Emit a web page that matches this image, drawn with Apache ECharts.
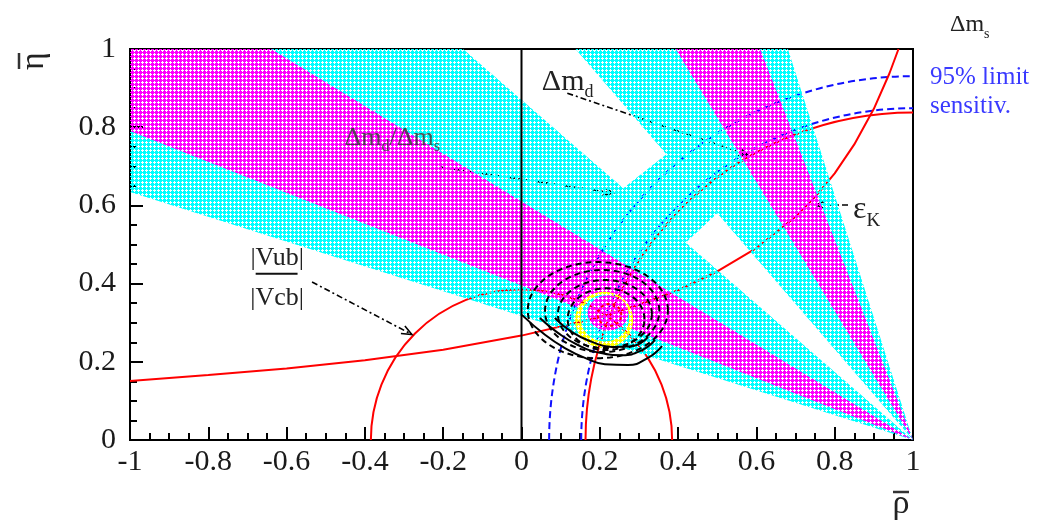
<!DOCTYPE html>
<html>
<head>
<meta charset="utf-8">
<script src="https://cdn.jsdelivr.net/npm/echarts@6/dist/echarts.min.js"></script>
<style>
html,body{margin:0;padding:0;background:#fff}
#chart{width:1046px;height:527px}
</style>
</head>
<body>
<div id="chart"></div>
<script>
// ---------- values ----------
const xTickLabels = ['-1', '-0.8', '-0.6', '-0.4', '-0.2', '0', '0.2', '0.4', '0.6', '0.8', '1'];
const yTickLabels = ['0', '0.2', '0.4', '0.6', '0.8', '1'];

// sin2β wedges from the apex (1,0): [tanβ low, tanβ high] for the two-fold solutions
const wedgeWide = [[0.317, 0.87], [1.16, 3.13]];
const wedgeCore = [[0.395, 0.61], [1.65, 2.56]];
// band piece bridging the gap between the two wide wedges, [ρ, η] corners
const bridgeBand = [[0.26, 0.644], [0.37, 0.731], [0.50, 0.58], [0.42, 0.505]];

// ε_K hyperbola, [ρ, η]
const epsKCurve = [
  [-1, 0.151], [-0.8, 0.166], [-0.6, 0.183], [-0.4, 0.204], [-0.2, 0.231],
  [0, 0.267], [0.2, 0.314], [0.3, 0.346], [0.4, 0.383], [0.5, 0.431],
  [0.6, 0.491], [0.7, 0.571], [0.75, 0.622], [0.8, 0.682], [0.85, 0.756],
  [0.9, 0.847], [0.94, 0.938], [0.963, 1.0]
];

// circles: [centre ρ, centre η, radius]
const vubCircle = [0, 0, 0.385];
const dmdCircle = [1, 0, 0.837];
const dmsCircles = [[1, 0, 0.93], [1, 0, 0.848]];

// fit contours, solid lower arcs [ρ, η]
const solidArc1 = [[0.001, 0.320], [0.060, 0.269], [0.111, 0.235], [0.162, 0.210], [0.213, 0.194], [0.272, 0.192], [0.323, 0.210], [0.359, 0.240]];
const solidArc2 = [[0.047, 0.312], [0.093, 0.274], [0.144, 0.243], [0.200, 0.223], [0.257, 0.217], [0.308, 0.230], [0.341, 0.256]];
const solidArc3 = [[0.085, 0.312], [0.129, 0.276], [0.180, 0.251], [0.231, 0.238], [0.282, 0.240], [0.323, 0.263]];
// dashed contour rings: [centre ρ, centre η, half-width, half-height]
const dashedRings = [[0.195, 0.332, 0.179, 0.123], [0.206, 0.330, 0.146, 0.105], [0.213, 0.322, 0.120, 0.087], [0.216, 0.309, 0.098, 0.079]];
// filled likelihood levels: [centre ρ, centre η, half-width, half-height]
const filledLevels = [[0.211, 0.307, 0.074, 0.072], [0.213, 0.312, 0.062, 0.060], [0.221, 0.325, 0.052, 0.045]];
const innerRing = [0.225, 0.320, 0.030, 0.028];

// ---------- drawing ----------
const FONT = 'Liberation Serif';

function makePattern(color) {
  const c = document.createElement('canvas');
  c.width = 4; c.height = 4;
  const g = c.getContext('2d');
  g.fillStyle = color;
  g.fillRect(0, 0, 4, 4);
  [[2, 2], [1, 2], [3, 2], [2, 1], [2, 3]].forEach(p => g.clearRect(p[0], p[1], 1, 1));
  return { image: c, repeat: 'repeat' };
}
const cyanFill = makePattern('#00ffff');
const magentaFill = makePattern('#ff00ff');
const yellowFill = makePattern('#ffff00');

// edge of a wedge line η = t(1-ρ) on the frame
function wedgeEdge(t) {
  return 2 * t <= 1 ? [-1, 2 * t] : [1 - 1 / t, 1];
}
function wedgePolygon(tLo, tHi) {
  const a = wedgeEdge(tLo), b = wedgeEdge(tHi);
  const pts = [[1, 0], a];
  if (a[0] === -1 && b[1] === 1) pts.push([-1, 1]);
  pts.push(b);
  return pts;
}
function ellipsePts(api, cx, cy, rx, ry) {
  const c = api.coord([cx, cy]);
  const s = api.size([rx, ry]);
  const pts = [];
  for (let k = 0; k < 90; k++) {
    const a = k / 90 * Math.PI * 2;
    pts.push([c[0] + s[0] * Math.cos(a), c[1] - s[1] * Math.sin(a)]);
  }
  return pts;
}
function subLabel(api, at, main, sub, size, color) {
  const p = api.coord(at);
  return {
    type: 'text', x: p[0], y: p[1],
    style: {
      text: '{m|' + main + '}{s|' + sub + '}',
      fill: color, verticalAlign: 'middle',
      rich: {
        m: { fontFamily: FONT, fontSize: size, fill: color, lineHeight: size * 1.3 },
        s: { fontFamily: FONT, fontSize: Math.round(size * 0.6), fill: color, verticalAlign: 'bottom', lineHeight: size * 0.9 }
      }
    }
  };
}
function arrow(api, from, to) {
  const a = api.coord(from), b = api.coord(to);
  const ang = Math.atan2(b[1] - a[1], b[0] - a[0]);
  const L = 11, w = 0.4;
  const h1 = [b[0] - L * Math.cos(ang - w), b[1] - L * Math.sin(ang - w)];
  const h2 = [b[0] - L * Math.cos(ang + w), b[1] - L * Math.sin(ang + w)];
  return [
    { type: 'line', shape: { x1: a[0], y1: a[1], x2: b[0], y2: b[1] }, style: { stroke: '#000', lineWidth: 1.6, lineDash: [6, 3, 2, 3] } },
    { type: 'polyline', shape: { points: [h1, b, h2] }, style: { stroke: '#000', lineWidth: 1.6, fill: null } }
  ];
}

const circleStyles = [
  { stroke: '#ff0000', lineDash: null },
  { stroke: '#ff0000', lineDash: null },
  { stroke: '#1010ff', lineDash: [7, 4] },
  { stroke: '#1010ff', lineDash: [7, 4] }
];
const circleData = [vubCircle, dmdCircle].concat(dmsCircles);

const wedgeData = wedgeWide.map(w => [w[0], w[1], 0]).concat(wedgeCore.map(w => [w[0], w[1], 1]));

const option = {
  animation: false,
  backgroundColor: '#ffffff',
  grid: { left: 130, right: 133, top: 49, bottom: 87, show: true, borderColor: '#000', borderWidth: 2, backgroundColor: 'transparent' },
  xAxis: {
    type: 'value', min: -1, max: 1, interval: 0.2,
    axisLine: { onZero: false, lineStyle: { color: '#000', width: 2 } },
    axisTick: { inside: true, length: 13, lineStyle: { color: '#000', width: 2 } },
    minorTick: { show: true, splitNumber: 4, length: 7, lineStyle: { color: '#000', width: 2 } },
    splitLine: { show: false },
    axisLabel: {
      margin: 7, fontFamily: FONT, fontSize: 30, color: '#1a1a1a',
      formatter: v => xTickLabels[Math.round((v + 1) / 0.2)]
    }
  },
  yAxis: {
    type: 'value', min: 0, max: 1, interval: 0.2,
    axisLine: { onZero: false, lineStyle: { color: '#000', width: 2 } },
    axisTick: { inside: true, length: 13, lineStyle: { color: '#000', width: 2 } },
    minorTick: { show: true, splitNumber: 4, length: 7, lineStyle: { color: '#000', width: 2 } },
    splitLine: { show: false },
    axisLabel: {
      margin: 14, fontFamily: FONT, fontSize: 30, color: '#1a1a1a',
      formatter: v => yTickLabels[Math.round(v / 0.2)]
    }
  },
  series: [
    // ε_K hyperbola
    {
      type: 'line', z: 1, data: epsKCurve, showSymbol: false, silent: true,
      lineStyle: { color: '#ff0000', width: 2 }
    },
    // |Vub/Vcb|, Δm_d and Δm_s circles
    {
      type: 'custom', z: 1, silent: true, data: circleData,
      renderItem: (params, api) => {
        const i = params.dataIndex;
        const c = api.coord([api.value(0), api.value(1)]);
        const s = api.size([api.value(2), api.value(2)]);
        const r = (s[0] + s[1]) / 2;
        const half = api.value(0) === 0;
        const st = circleStyles[i];
        return {
          type: 'arc',
          shape: { cx: c[0], cy: c[1], r: r, startAngle: Math.PI, endAngle: half ? Math.PI * 2 : Math.PI * 1.5, clockwise: true },
          style: { stroke: st.stroke, lineWidth: 2, fill: null, lineDash: st.lineDash }
        };
      }
    },
    // arrows and labels lying under the bands
    {
      type: 'custom', z: 1, silent: true, data: [[0, 0]],
      renderItem: (params, api) => {
        const ch = [];
        arrow(api, [-0.208, 0.698], [0.234, 0.632]).forEach(e => ch.push(e));
        arrow(api, [0.117, 0.887], [0.578, 0.729]).forEach(e => ch.push(e));
        arrow(api, [0.834, 0.601], [0.752, 0.601]).forEach(e => ch.push(e));
        arrow(api, [-0.535, 0.404], [-0.28, 0.27]).forEach(e => ch.push(e));
        ch.push(subLabel(api, [0.052, 0.915], 'Δm', 'd', 30, '#222'));
        ch.push(subLabel(api, [0.847, 0.588], 'ε', 'K', 32, '#222'));
        // |Vub| / |Vcb|
        const t1 = api.coord([-0.624, 0.465]);
        const t2 = api.coord([-0.624, 0.363]);
        const b1 = api.coord([-0.679, 0.425]);
        const b2 = api.coord([-0.572, 0.425]);
        ch.push({ type: 'text', x: t1[0], y: t1[1], style: { text: '|Vub|', fontFamily: FONT, fontSize: 26, fill: '#222', align: 'center', verticalAlign: 'middle' } });
        ch.push({ type: 'line', shape: { x1: b1[0], y1: b1[1], x2: b2[0], y2: b2[1] }, style: { stroke: '#111', lineWidth: 2 } });
        ch.push({ type: 'text', x: t2[0], y: t2[1], style: { text: '|Vcb|', fontFamily: FONT, fontSize: 26, fill: '#222', align: 'center', verticalAlign: 'middle' } });
        return { type: 'group', children: ch };
      }
    },
    // sin2β bands
    {
      type: 'custom', z: 2, silent: true, data: wedgeData,
      renderItem: (params, api) => {
        const kind = api.value(2);
        const pts = wedgePolygon(api.value(0), api.value(1)).map(p => api.coord(p));
        return { type: 'polygon', z2: kind, shape: { points: pts }, style: { fill: kind ? magentaFill : cyanFill, stroke: null } };
      }
    },
    {
      type: 'custom', z: 2, silent: true, data: [[0, 0]],
      renderItem: (params, api) => ({
        type: 'polygon', z2: 0,
        shape: { points: bridgeBand.map(p => api.coord(p)) },
        style: { fill: cyanFill, stroke: null }
      })
    },
    // Δm_d / Δm_s label
    {
      type: 'custom', z: 3, silent: true, data: [[-0.452, 0.772]],
      renderItem: (params, api) => {
        const p = api.coord([api.value(0), api.value(1)]);
        return {
          type: 'text', x: p[0], y: p[1],
          style: {
            text: '{m|Δm}{s|d}{m|/Δm}{s|s}', fill: '#3a3a3a', verticalAlign: 'middle', opacity: 0.85,
            rich: {
              m: { fontFamily: FONT, fontSize: 26, fill: '#3a3a3a', lineHeight: 34 },
              s: { fontFamily: FONT, fontSize: 16, fill: '#3a3a3a', verticalAlign: 'bottom', lineHeight: 26 }
            }
          }
        };
      }
    },
    // filled likelihood levels
    {
      type: 'custom', z: 3, silent: true, data: filledLevels,
      renderItem: (params, api) => {
        const fills = [yellowFill, cyanFill, magentaFill];
        return {
          type: 'polygon', z2: params.dataIndex,
          shape: { points: ellipsePts(api, api.value(0), api.value(1), api.value(2), api.value(3)) },
          style: { fill: fills[params.dataIndex], stroke: null }
        };
      }
    },
    {
      type: 'custom', z: 3, silent: true, data: [innerRing],
      renderItem: (params, api) => ({
        type: 'polygon', z2: 5,
        shape: { points: ellipsePts(api, api.value(0), api.value(1), api.value(2), api.value(3)) },
        style: { fill: null, stroke: '#ff0000', lineWidth: 2, lineDash: [3, 3] }
      })
    },
    // dashed contours
    {
      type: 'custom', z: 3, silent: true, data: dashedRings,
      renderItem: (params, api) => ({
        type: 'polygon', z2: 10,
        shape: { points: ellipsePts(api, api.value(0), api.value(1), api.value(2), api.value(3)) },
        style: { fill: null, stroke: '#000', lineWidth: 2, lineDash: [6, 4] }
      })
    },
    // solid contours
    { type: 'line', z: 3, data: solidArc1, smooth: true, showSymbol: false, silent: true, lineStyle: { color: '#000', width: 2 } },
    { type: 'line', z: 3, data: solidArc2, smooth: true, showSymbol: false, silent: true, lineStyle: { color: '#000', width: 2 } },
    { type: 'line', z: 3, data: solidArc3, smooth: true, showSymbol: false, silent: true, lineStyle: { color: '#000', width: 2 } },
    // ρ = 0 line
    {
      type: 'line', z: 4, data: [[0, 0], [0, 1]], showSymbol: false, silent: true,
      lineStyle: { color: '#000', width: 2 }
    }
  ],
  graphic: [
    {
      type: 'group', x: 45, y: 61, rotation: Math.PI / 2,
      children: [
        { type: 'text', x: 0, y: -11, style: { text: 'η', fontFamily: FONT, fontSize: 34, fill: '#222', align: 'center', verticalAlign: 'middle' } },
        { type: 'line', shape: { x1: -8, y1: -26, x2: 8, y2: -26 }, style: { stroke: '#333', lineWidth: 2.5 } }
      ]
    },
    { type: 'text', x: 901, y: 504, style: { text: 'ρ', fontFamily: FONT, fontSize: 34, fill: '#222', align: 'center', verticalAlign: 'middle' } },
    { type: 'line', shape: { x1: 893, y1: 492, x2: 909, y2: 492 }, style: { stroke: '#333', lineWidth: 2.5 } },
    {
      type: 'text', x: 950, y: 25,
      style: {
        text: '{m|Δm}{s|s}', verticalAlign: 'middle',
        rich: {
          m: { fontFamily: FONT, fontSize: 24, fill: '#222', lineHeight: 32 },
          s: { fontFamily: FONT, fontSize: 14, fill: '#222', verticalAlign: 'bottom', lineHeight: 24 }
        }
      }
    },
    { type: 'text', x: 930, y: 77, style: { text: '95% limit', fontFamily: FONT, fontSize: 25, fill: '#3a3aff', verticalAlign: 'middle' } },
    { type: 'text', x: 930, y: 106, style: { text: 'sensitiv.', fontFamily: FONT, fontSize: 25, fill: '#3a3aff', verticalAlign: 'middle' } }
  ]
};

const chart = echarts.init(document.getElementById('chart'), null, { renderer: 'canvas' });
chart.setOption(option);
</script>
</body>
</html>
